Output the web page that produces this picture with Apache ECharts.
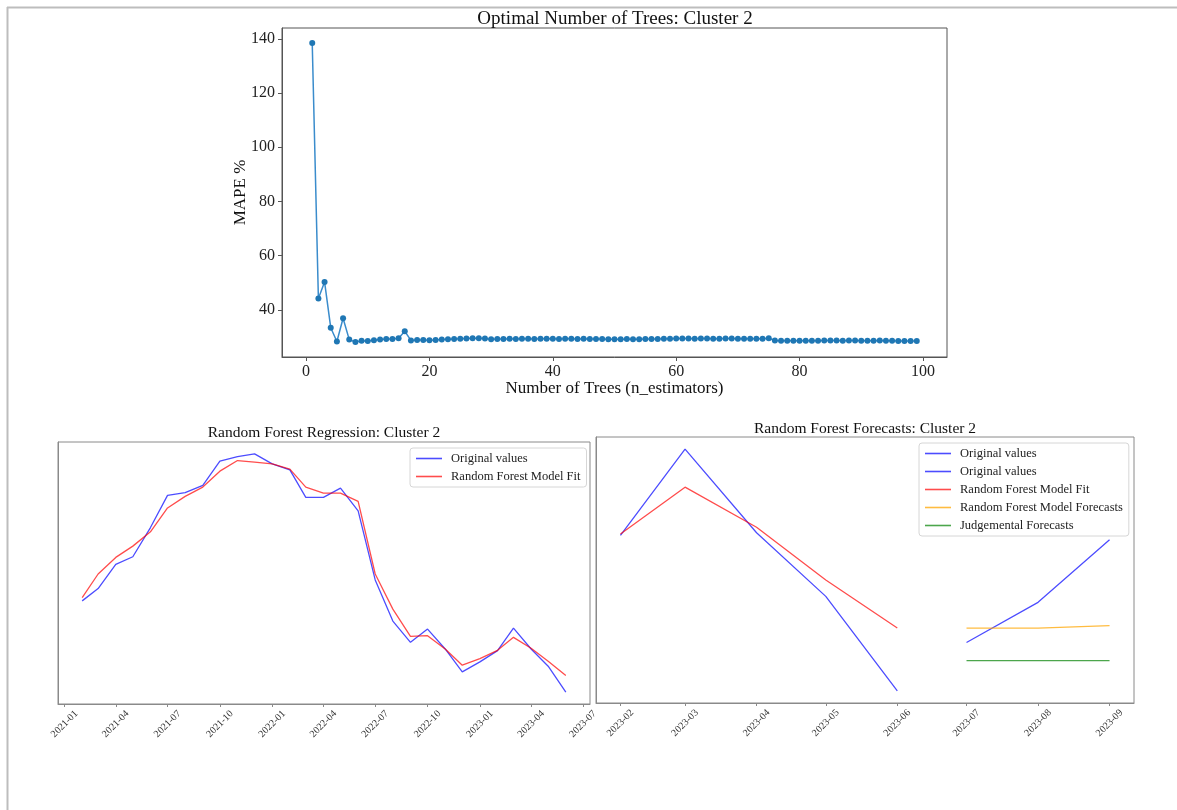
<!DOCTYPE html>
<html>
<head>
<meta charset="utf-8">
<title>Random Forest: Cluster 2</title>
<script src="https://cdn.jsdelivr.net/npm/echarts@6/dist/echarts.min.js"></script>
<style>
  html, body { margin: 0; padding: 0; background: #fff; }
  #main { width: 1177px; height: 810px; }
</style>
</head>
<body>
<div id="main"></div>
<script>
// ---- top: MAPE vs number of trees
const treeCounts = [
  1, 2, 3, 4, 5, 6, 7, 8, 9, 10, 11, 12, 13, 14, 15, 16, 17, 18, 19, 20,
  21, 22, 23, 24, 25, 26, 27, 28, 29, 30, 31, 32, 33, 34, 35, 36, 37, 38, 39, 40,
  41, 42, 43, 44, 45, 46, 47, 48, 49, 50, 51, 52, 53, 54, 55, 56, 57, 58, 59, 60,
  61, 62, 63, 64, 65, 66, 67, 68, 69, 70, 71, 72, 73, 74, 75, 76, 77, 78, 79, 80,
  81, 82, 83, 84, 85, 86, 87, 88, 89, 90, 91, 92, 93, 94, 95, 96, 97, 98, 99
];
const mapeValues = [
  138.5, 44.2, 50.3, 33.4, 28.3, 36.9, 29.0, 28.1, 28.6, 28.5, 28.8, 29.0, 29.2, 29.2, 29.5, 32.1,
  28.7, 28.9, 28.9, 28.8, 28.9, 29.0, 29.1, 29.2, 29.3, 29.4, 29.5, 29.5, 29.4,
  29.1, 29.2, 29.2, 29.3, 29.2, 29.3, 29.3, 29.2, 29.3, 29.3, 29.3, 29.2, 29.3, 29.3, 29.2, 29.3, 29.2,
  29.2, 29.2, 29.1, 29.1, 29.1, 29.2, 29.1, 29.1, 29.2, 29.2, 29.2, 29.3, 29.3,
  29.4, 29.4, 29.4, 29.3, 29.4, 29.4, 29.3, 29.3, 29.4, 29.4, 29.3, 29.3, 29.3, 29.3, 29.3, 29.5,
  28.7, 28.6, 28.6, 28.6, 28.6, 28.6, 28.6, 28.6, 28.7, 28.7, 28.7, 28.6, 28.7, 28.7, 28.6, 28.6,
  28.6, 28.7, 28.6, 28.6, 28.5, 28.5, 28.5, 28.5
];
const mapeTicks = [40, 60, 80, 100, 120, 140];
const treeTicks = [0, 20, 40, 60, 80, 100];

// ---- bottom left: model fit over the training months
const fitMonths = [
  "2021-02", "2021-03", "2021-04", "2021-05", "2021-06", "2021-07", "2021-08", "2021-09", "2021-10", "2021-11",
  "2021-12", "2022-01", "2022-02", "2022-03", "2022-04", "2022-05", "2022-06", "2022-07", "2022-08", "2022-09",
  "2022-10", "2022-11", "2022-12", "2023-01", "2023-02", "2023-03", "2023-04", "2023-05", "2023-06"
];
const fitOriginal = [
  310, 347, 420, 443, 531, 628, 636, 658, 731, 745,
  753, 723, 705, 622, 622, 650, 581, 373, 249, 185,
  225, 165, 96, 126, 160, 228, 165, 113, 35
];
const fitModel = [
  320, 391, 441, 475, 518, 590, 625, 653, 701, 733,
  728, 723, 707, 653, 635, 635, 610, 391, 285, 203,
  205, 165, 116, 136, 161, 200, 167, 128, 85
];
const fitTicks = [
  "2021-01", "2021-04", "2021-07", "2021-10", "2022-01", "2022-04",
  "2022-07", "2022-10", "2023-01", "2023-04", "2023-07"
];

// ---- bottom right: test months and forecasts
const testMonths = ["2023-02", "2023-03", "2023-04", "2023-05", "2023-06"];
const testOriginal = [159.5, 228.6, 161.6, 110.7, 35];
const testModel = [160.7, 198.1, 166, 123.8, 85.3];
const futureMonths = ["2023-07", "2023-08", "2023-09"];
const futureOriginal = [73.8, 105.9, 156.1];
const rfForecasts = [85.3, 85.3, 87.2];
const judgementalForecasts = [59.3, 59.3, 59.3];
const forecastTicks = ["2023-02", "2023-03", "2023-04", "2023-05", "2023-06", "2023-07", "2023-08", "2023-09"];

const SERIF = "Liberation Serif";
const BLUE = "rgba(0,0,255,0.7)";
const RED = "rgba(255,0,0,0.7)";

function toTime(m) {
  const [y, mo] = m.split("-").map(Number);
  return Date.UTC(y, mo - 1, 1);
}
function monthLabel(t) {
  const d = new Date(t);
  return d.getUTCFullYear() + "-" + String(d.getUTCMonth() + 1).padStart(2, "0");
}
// matplotlib style 5% margin around the data
function padRange(values) {
  const lo = Math.min(...values);
  const hi = Math.max(...values);
  const d = (hi - lo) * 0.05;
  return [lo - d, hi + d];
}
function pairs(xs, ys) {
  return xs.map((x, i) => [x, ys[i]]);
}

const treeRange = padRange(treeCounts);
const mapeRange = padRange(mapeValues);
const fitX = fitMonths.map(toTime);
const fitXRange = padRange(fitX);
const fitYRange = padRange(fitOriginal.concat(fitModel));
const testX = testMonths.map(toTime);
const futureX = futureMonths.map(toTime);
const fcXRange = padRange(testX.concat(futureX));
const fcYRange = padRange(testOriginal.concat(testModel, futureOriginal, rfForecasts, judgementalForecasts));

function dateAxis(gridIndex, range, ticks) {
  const tickValues = ticks.map(toTime);
  return {
    type: "value",
    gridIndex: gridIndex,
    min: range[0],
    max: range[1],
    splitLine: { show: false },
    axisLine: { show: true, onZero: false, lineStyle: { color: "#8a8a8a" } },
    axisTick: { show: true, customValues: tickValues, length: 3, lineStyle: { color: "#8a8a8a" } },
    axisLabel: {
      customValues: tickValues,
      formatter: monthLabel,
      rotate: 45,
      align: "center",
      verticalAlign: "middle",
      margin: 20,
      fontSize: 10,
      color: "#333",
      fontFamily: SERIF,
    },
  };
}
function hiddenYAxis(gridIndex, range) {
  return {
    type: "value",
    gridIndex: gridIndex,
    min: range[0],
    max: range[1],
    splitLine: { show: false },
    axisLine: { show: true, onZero: false, lineStyle: { color: "#8a8a8a" } },
    axisTick: { show: false },
    axisLabel: { show: false },
  };
}
function plainLine(name, x, y, xi, color) {
  return {
    name: name,
    type: "line",
    xAxisIndex: xi,
    yAxisIndex: xi,
    data: pairs(x, y),
    symbol: "none",
    lineStyle: { color: color, width: 1.3 },
    itemStyle: { color: color },
    silent: true,
  };
}

const legendBase = {
  orient: "vertical",
  icon: "rect",
  itemWidth: 26,
  itemHeight: 1.6,
  itemGap: 5,
  padding: [4, 6],
  borderColor: "#d6d6d6",
  borderWidth: 1,
  borderRadius: 3,
  backgroundColor: "rgba(255,255,255,0.8)",
  textStyle: { fontFamily: SERIF, fontSize: 12.5, color: "#222", padding: [0, 0, 0, 4] },
};

const chart = echarts.init(document.getElementById("main"), null, { renderer: "canvas" });
chart.setOption({
  animation: false,
  backgroundColor: "#fff",
  textStyle: { fontFamily: SERIF },
  title: [
    {
      text: "Optimal Number of Trees: Cluster 2",
      left: 615, top: 10, textAlign: "center", padding: 0,
      textStyle: { fontFamily: SERIF, fontSize: 19, fontWeight: "normal", color: "#111" },
    },
    {
      text: "Random Forest Regression: Cluster 2",
      left: 324, top: 425, textAlign: "center", padding: 0,
      textStyle: { fontFamily: SERIF, fontSize: 15.5, fontWeight: "normal", color: "#111" },
    },
    {
      text: "Random Forest Forecasts: Cluster 2",
      left: 865, top: 421, textAlign: "center", padding: 0,
      textStyle: { fontFamily: SERIF, fontSize: 15.5, fontWeight: "normal", color: "#111" },
    },
  ],
  legend: [
    Object.assign({}, legendBase, {
      left: 410, top: 448,
      data: ["Original values", "Random Forest Model Fit"],
    }),
    Object.assign({}, legendBase, {
      left: 919, top: 443,
      data: ["Original values", "Original values ", "Random Forest Model Fit", "Random Forest Model Forecasts", "Judgemental Forecasts"],
    }),
  ],
  grid: [
    { left: 282, top: 28, width: 665, height: 329, show: true, borderColor: "#555", borderWidth: 1 },
    { left: 58, top: 442, width: 532, height: 262, show: true, borderColor: "#8a8a8a", borderWidth: 1 },
    { left: 596, top: 437, width: 538, height: 266, show: true, borderColor: "#8a8a8a", borderWidth: 1 },
  ],
  xAxis: [
    {
      type: "value",
      gridIndex: 0,
      min: treeRange[0],
      max: treeRange[1],
      splitLine: { show: false },
      axisLine: { show: true, onZero: false, lineStyle: { color: "#555" } },
      axisTick: { show: true, customValues: treeTicks, length: 4, lineStyle: { color: "#555" } },
      axisLabel: { customValues: treeTicks, fontSize: 16, color: "#222", fontFamily: SERIF, margin: 7 },
      name: "Number of Trees (n_estimators)",
      nameLocation: "middle",
      nameGap: 23,
      nameMoveOverlap: false,
      nameTextStyle: { fontFamily: SERIF, fontSize: 17, color: "#111" },
    },
    dateAxis(1, fitXRange, fitTicks),
    dateAxis(2, fcXRange, forecastTicks),
  ],
  yAxis: [
    {
      type: "value",
      gridIndex: 0,
      min: mapeRange[0],
      max: mapeRange[1],
      splitLine: { show: false },
      axisLine: { show: true, onZero: false, lineStyle: { color: "#555" } },
      axisTick: { show: true, customValues: mapeTicks, length: 4, lineStyle: { color: "#555" } },
      axisLabel: { customValues: mapeTicks, fontSize: 16, color: "#222", fontFamily: SERIF, margin: 7 },
      name: "MAPE %",
      nameLocation: "middle",
      nameGap: 33,
      nameMoveOverlap: false,
      nameTextStyle: { fontFamily: SERIF, fontSize: 17, color: "#111" },
    },
    hiddenYAxis(1, fitYRange),
    hiddenYAxis(2, fcYRange),
  ],
  series: [
    {
      name: "MAPE",
      type: "line",
      xAxisIndex: 0,
      yAxisIndex: 0,
      data: pairs(treeCounts, mapeValues),
      symbol: "circle",
      symbolSize: 6,
      showAllSymbol: true,
      lineStyle: { color: "#3a8ccc", width: 1.5 },
      itemStyle: { color: "#1f77b4" },
      silent: true,
    },
    plainLine("Original values", fitX, fitOriginal, 1, BLUE),
    plainLine("Random Forest Model Fit", fitX, fitModel, 1, RED),
    plainLine("Original values", testX, testOriginal, 2, BLUE),
    plainLine("Original values ", futureX, futureOriginal, 2, BLUE),
    plainLine("Random Forest Model Fit", testX, testModel, 2, RED),
    plainLine("Random Forest Model Forecasts", futureX, rfForecasts, 2, "rgba(255,165,0,0.75)"),
    plainLine("Judgemental Forecasts", futureX, judgementalForecasts, 2, "rgba(0,128,0,0.7)"),
  ],
  graphic: [
    // outer frame of the notebook cell
    { type: "line", shape: { x1: 7, y1: 7.5, x2: 1177, y2: 7.5 }, style: { stroke: "#bdbdbd", lineWidth: 2 }, silent: true },
    { type: "line", shape: { x1: 7.5, y1: 7, x2: 7.5, y2: 810 }, style: { stroke: "#bdbdbd", lineWidth: 2 }, silent: true },
  ],
});
</script>
</body>
</html>
